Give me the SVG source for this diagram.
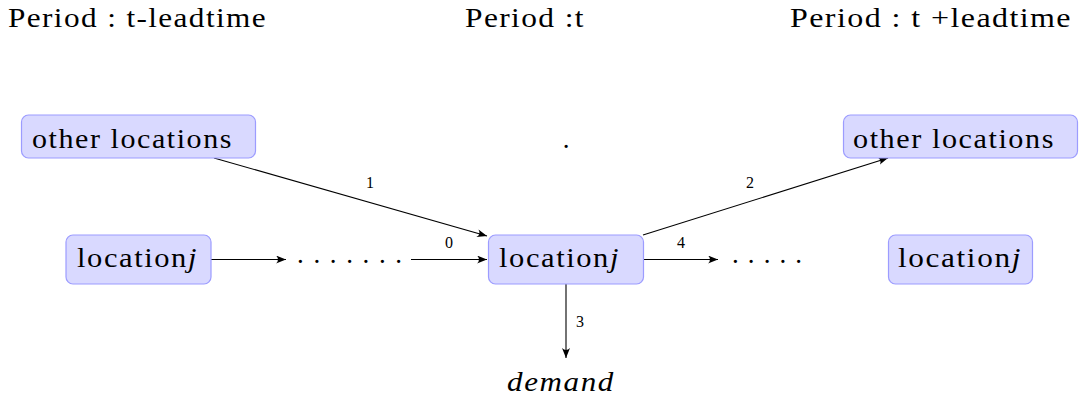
<svg xmlns="http://www.w3.org/2000/svg" width="1089" height="404" viewBox="0 0 1089 404" font-family="Liberation Serif, Times New Roman, serif">
<style>
.node rect{fill:#d9d9ff;stroke:#9c9cff;stroke-width:1.2}
text{font-family:'Liberation Serif','Times New Roman',serif;fill:#000}
.nt{font-size:27px;letter-spacing:1.4px}
.hd{font-size:27px;letter-spacing:1.2px}
.lb{font-size:16px}
.dt{font-size:27px}
.edge{stroke:#000;stroke-width:1.1;fill:none;marker-end:url(#ah)}
</style>
<defs>
<marker id="ah" viewBox="0 0 10 8" refX="10" refY="4" markerWidth="10" markerHeight="8" markerUnits="userSpaceOnUse" orient="auto">
<path d="M0,0 Q4,4 0,8 L10,4 Z" fill="#000"/>
</marker>
</defs>
<rect width="1089" height="404" fill="#fff"/>
<g id="headers">
<text class="hd" x="8" y="27" textLength="259" lengthAdjust="spacingAndGlyphs">Period : t-leadtime</text>
<text class="hd" x="465" y="27" textLength="120" lengthAdjust="spacingAndGlyphs">Period :t</text>
<text class="hd" x="790" y="27" textLength="282" lengthAdjust="spacingAndGlyphs">Period : t +leadtime</text>
</g>
<g id="connectors">
<line class="edge" x1="211" y1="259.5" x2="286" y2="259.5"/>
<line class="edge" x1="411" y1="259.5" x2="487" y2="259.5"/>
<line class="edge" x1="214" y1="158" x2="487" y2="236"/>
<line class="edge" x1="643" y1="235" x2="888" y2="158"/>
<line class="edge" x1="643" y1="259.5" x2="718" y2="259.5"/>
<line class="edge" x1="566" y1="284" x2="566" y2="358"/>
<text class="lb" x="449" y="248" text-anchor="middle">0</text>
<text class="lb" x="370" y="188" text-anchor="middle">1</text>
<text class="lb" x="750" y="188" text-anchor="middle">2</text>
<text class="lb" x="580" y="327" text-anchor="middle">3</text>
<text class="lb" x="681" y="248" text-anchor="middle">4</text>
</g>
<g id="dots-left"><text class="dt" x="297" y="263" textLength="105" lengthAdjust="spacing">. . . . . . .</text></g>
<g id="dots-right"><text class="dt" x="732" y="263" textLength="70" lengthAdjust="spacing">. . . . .</text></g>
<g id="dot-center"><text class="dt" x="566" y="148" text-anchor="middle">.</text></g>
<g id="other-left" class="node">
<rect x="21.5" y="115" width="234" height="43" rx="7"/>
<text class="nt" x="32" y="148" textLength="201" lengthAdjust="spacingAndGlyphs">other locations</text>
</g>
<g id="other-right" class="node">
<rect x="843.5" y="115" width="234" height="43" rx="7"/>
<text class="nt" x="853" y="148" textLength="202" lengthAdjust="spacingAndGlyphs">other locations</text>
</g>
<g id="loc-left" class="node">
<rect x="66" y="235" width="145" height="49" rx="7"/>
<text class="nt" x="77" y="267" textLength="121" lengthAdjust="spacingAndGlyphs">location<tspan font-style="italic">j</tspan></text>
</g>
<g id="loc-center" class="node">
<rect x="488.5" y="235" width="155" height="49" rx="7"/>
<text class="nt" x="499" y="267" textLength="121" lengthAdjust="spacingAndGlyphs">location<tspan font-style="italic">j</tspan></text>
</g>
<g id="loc-right" class="node">
<rect x="888.5" y="235" width="144" height="49" rx="7"/>
<text class="nt" x="898" y="267" textLength="124" lengthAdjust="spacingAndGlyphs">location<tspan font-style="italic">j</tspan></text>
</g>
<g id="demand">
<text class="nt" x="507" y="391" font-style="italic" textLength="108" lengthAdjust="spacingAndGlyphs">demand</text>
</g>
</svg>
